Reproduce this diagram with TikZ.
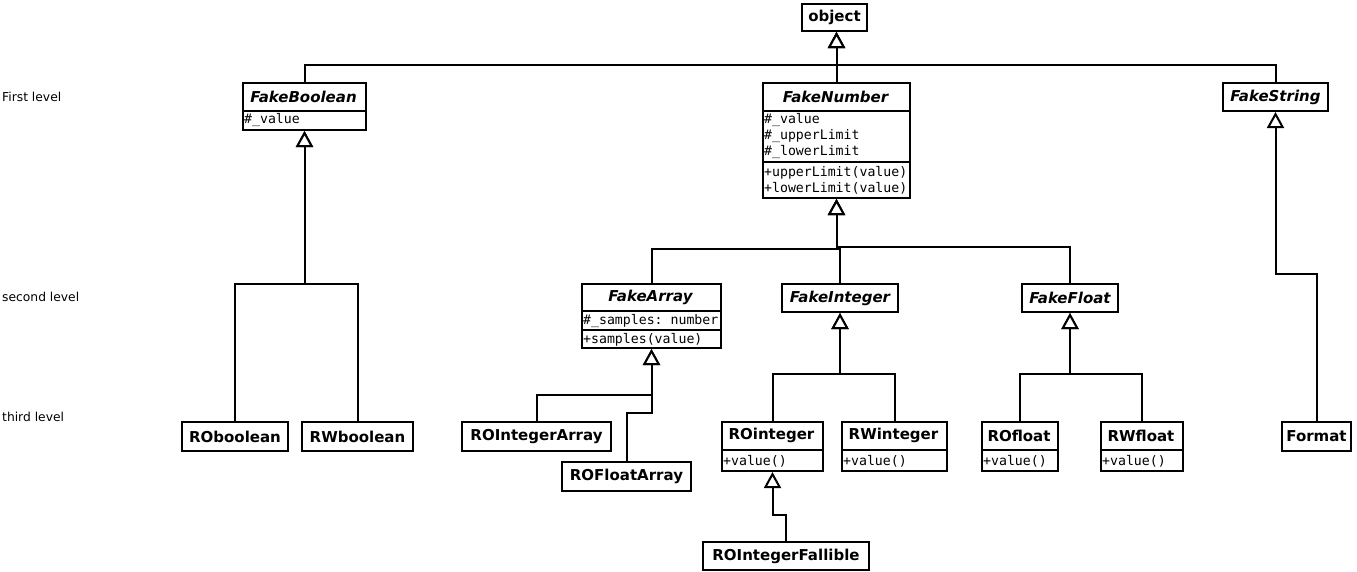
\documentclass[tikz,border=0pt]{standalone}
\usepackage{fontspec}
\setmainfont{DejaVu Sans}
\setmonofont{DejaVu Sans Mono}
\usetikzlibrary{arrows.meta}
\newcommand\ttlfont{\fontsize{15}{18}\selectfont\bfseries}
\newcommand\attrfont{\fontsize{13.2}{16}\selectfont\ttfamily}
\newcommand\lvlfont{\fontsize{12.3}{15}\selectfont}
\begin{document}
\begin{tikzpicture}[x=1pt,y=-1pt,
 boxn/.style={draw, line width=2pt, inner sep=0pt, anchor=north west, font=\ttlfont},
 ttl/.style={inner sep=0pt, font=\ttlfont},
 sepl/.style={line width=1.5pt},
 attr/.style={anchor=west, inner sep=0pt, font=\attrfont, align=left},
 lvl/.style={anchor=west, inner sep=0pt, font=\lvlfont},
 inh/.style={line width=2pt, -{Triangle[open, fill=white, length=16pt, width=17pt]}}
]
\useasboundingbox (0,0) rectangle (1357,571);

% level labels
\node[lvl] (L1) at (2,97) {First level};
\node[lvl] (L2) at (2,297) {second level};
\node[lvl] (L3) at (2,417) {third level};

% object
\node[boxn, minimum width=65pt, minimum height=27pt] (obj) at (801,3) {object};

% FakeBoolean
\node[boxn, minimum width=123pt, minimum height=47pt] (FB) at (242,82) {};
\node[ttl] (FBt) at (303.5,96.5) {\itshape FakeBoolean};
\draw[sepl] (FB.west |- 0,111) -- (FB.east |- 0,111);
\node[attr] (FBa) at (244,120) {\#\_value};

% FakeNumber
\node[boxn, minimum width=147pt, minimum height=115pt] (FN) at (762,82) {};
\node[ttl] (FNt) at (835.5,96.5) {\itshape FakeNumber};
\draw[sepl] (FN.west |- 0,111) -- (FN.east |- 0,111);
\draw[sepl] (FN.west |- 0,162) -- (FN.east |- 0,162);
\node[attr] (FNa) at (764,136) {\#\_value\\\#\_upperLimit\\\#\_lowerLimit};
\node[attr] (FNm) at (764,180) {+upperLimit(value)\\+lowerLimit(value)};

% FakeString
\node[boxn, minimum width=105pt, minimum height=28pt] (FS) at (1222,82) {\itshape FakeString};

% FakeArray
\node[boxn, minimum width=139pt, minimum height=64pt] (FA) at (581,283) {};
\node[ttl] (FAt) at (650.5,297) {\itshape FakeArray};
\draw[sepl] (FA.west |- 0,311) -- (FA.east |- 0,311);
\draw[sepl] (FA.west |- 0,330) -- (FA.east |- 0,330);
\node[attr] (FAa) at (583,321) {\#\_samples: number};
\node[attr] (FAm) at (583,339.5) {+samples(value)};

% FakeInteger, FakeFloat
\node[boxn, minimum width=116pt, minimum height=28pt] (FI) at (781,283) {\itshape FakeInteger};
\node[boxn, minimum width=96pt, minimum height=28pt] (FF) at (1021,283) {\itshape FakeFloat};

% third level
\node[boxn, minimum width=106pt, minimum height=29pt] (RObool) at (181,421) {ROboolean};
\node[boxn, minimum width=111pt, minimum height=29pt] (RWbool) at (301,421) {RWboolean};
\node[boxn, minimum width=149pt, minimum height=29pt] (ROIA) at (461,421) {ROIntegerArray};
\node[boxn, minimum width=129pt, minimum height=29pt] (ROFA) at (561,461) {ROFloatArray};
\node[boxn, minimum width=69pt, minimum height=29pt] (Fmt) at (1281,421) {Format};
\node[boxn, minimum width=166pt, minimum height=28pt] (ROIF) at (702,541) {ROIntegerFallible};

\node[boxn, minimum width=101pt, minimum height=49pt] (ROI) at (721,421) {};
\node[ttl] (ROIt) at (771.5,435.5) {ROinteger};
\draw[sepl] (ROI.west |- 0,450) -- (ROI.east |- 0,450);
\node[attr] (ROIm) at (723,461) {+value()};

\node[boxn, minimum width=105pt, minimum height=49pt] (RWI) at (841,421) {};
\node[ttl] (RWIt) at (893.5,435.5) {RWinteger};
\draw[sepl] (RWI.west |- 0,450) -- (RWI.east |- 0,450);
\node[attr] (RWIm) at (843,461) {+value()};

\node[boxn, minimum width=76pt, minimum height=49pt] (ROF) at (981,421) {};
\node[ttl] (ROFt) at (1019,435.5) {ROfloat};
\draw[sepl] (ROF.west |- 0,450) -- (ROF.east |- 0,450);
\node[attr] (ROFm) at (983,461) {+value()};

\node[boxn, minimum width=82pt, minimum height=49pt] (RWF) at (1100,421) {};
\node[ttl] (RWFt) at (1141,435.5) {RWfloat};
\draw[sepl] (RWF.west |- 0,450) -- (RWF.east |- 0,450);
\node[attr] (RWFm) at (1102,461) {+value()};

% junctions
\coordinate (j0) at (FN.north |- 0,65);
\coordinate (j1) at (FB.south |- 0,284);
\coordinate (j2a) at (FN.south |- 0,249);
\coordinate (j2b) at (FN.south |- 0,247);
\coordinate (j3a) at (FA.south |- 0,395);
\coordinate (j3b) at (FA.south |- 0,413);
\coordinate (j4) at (FI.south |- 0,374);
\coordinate (j5) at (FF.south |- 0,374);
\coordinate (j6) at (FS.south |- 0,274);
\coordinate (j7) at (ROI.south |- 0,515);

% connectors
\draw[inh] (FB.north) |- (j0) -- (obj.south -| j0);
\draw[inh] (FS.north) |- (j0) -- (obj.south -| j0);
\draw[inh] (FN.north) -- (obj.south -| j0);

\draw[inh] (RObool.north) |- (j1) -- (FB.south);
\draw[inh] (RWbool.north) |- (j1) -- (FB.south);

\draw[inh] (FA.north) |- (j2a) -- (FN.south);
\draw[inh] (FI.north) |- (j2a) -- (FN.south);
\draw[inh] (FF.north) |- (j2b) -- (FN.south);

\draw[inh] (ROIA.north) |- (j3a) -- (FA.south);
\draw[inh] (ROFA.north) |- (j3b) -- (FA.south);

\draw[inh] (ROI.north) |- (j4) -- (FI.south);
\draw[inh] (RWI.north) |- (j4) -- (FI.south);

\draw[inh] (ROF.north) |- (j5) -- (FF.south);
\draw[inh] (RWF.north) |- (j5) -- (FF.south);

\draw[inh] (Fmt.north) |- (j6) -- (FS.south);
\draw[inh] (ROIF.north) |- (j7) -- (ROI.south);
\end{tikzpicture}
\end{document}
